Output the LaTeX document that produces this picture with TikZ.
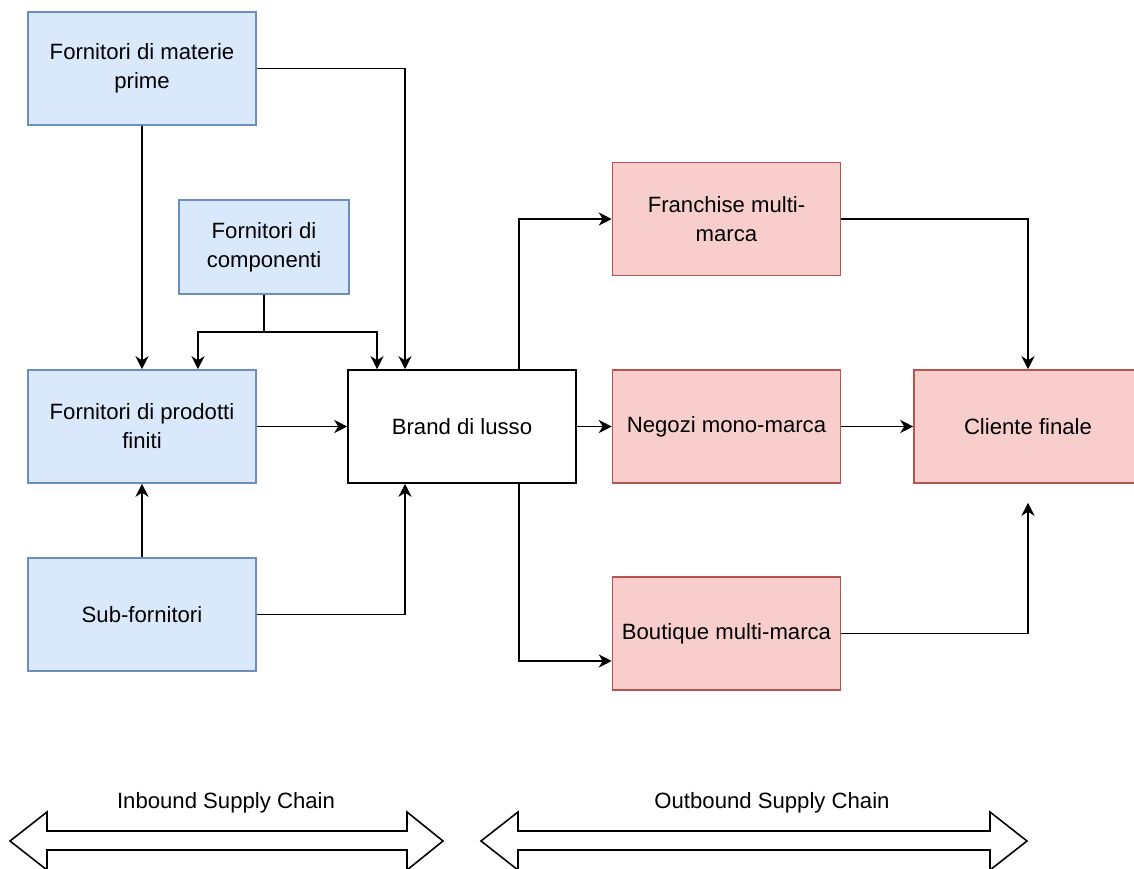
\documentclass[tikz,border=0pt]{standalone}
\usepackage{fontspec}
\setmainfont{Liberation Sans}
\usepackage{xcolor}
\usepackage{tikz}
\usetikzlibrary{arrows.meta, positioning, calc}

\definecolor{inblue}{HTML}{DAE8FC}
\definecolor{inblueline}{HTML}{6C8EBF}
\definecolor{outred}{HTML}{F8CECC}
\definecolor{outredline}{HTML}{B85450}

\begin{document}
\begin{tikzpicture}[
    x=0.02cm, y=-0.02cm,
    box/.style={rectangle, draw, line width=0.9pt, minimum width=4.56cm, minimum height=2.26cm, align=center, inner sep=2pt, font=\fontsize{12.6}{16.5}\selectfont},
    inbox/.style={box, fill=inblue, draw=inblueline},
    outbox/.style={box, fill=outred, draw=outredline},
    arrow/.style={-{Stealth[length=0.26cm, width=0.26cm, inset=0.08cm]}, line width=0.9pt},
    chain/.style={draw, line width=0.9pt, fill=white},
    lbl/.style={font=\fontsize{12.6}{16.5}\selectfont}
]
    \useasboundingbox (0,0) rectangle (1134,869);

    % inbound side
    \node[inbox] (mat) at (142,68.5) {Fornitori di materie\\prime};
    \node[inbox, minimum width=3.4cm, minimum height=1.88cm] (comp) at (264,247) {Fornitori di\\componenti};
    \node[inbox] (fin) at (142,426.5) {Fornitori di prodotti\\finiti};
    \node[inbox] (sub) at (142,614.5) {Sub-fornitori};

    \node[box, fill=white] (brand) at (462,426.5) {Brand di lusso};

    % outbound side
    \node[outbox] (fran) at (726.5,219) {Franchise multi-\\marca};
    \node[outbox] (neg) at (726.5,426.5) {Negozi mono-marca};
    \node[outbox] (bout) at (726.5,633.5) {Boutique multi-marca};
    \node[outbox] (cli) at (1028,426.5) {Cliente finale};

    \coordinate (split) at ([yshift=-0.74cm]comp.south);
    \coordinate (cliend) at ([yshift=-0.38cm]cli.south);

    \draw[arrow] (mat) -- (fin);
    \draw[arrow] (mat.east) -| ([xshift=-1.14cm]brand.north);
    \draw[line width=0.9pt] (comp.south) -- (split);
    \draw[arrow] (split) -| ([xshift=1.12cm]fin.north);
    \draw[arrow] (split) -| ([xshift=-1.7cm]brand.north);
    \draw[arrow] (fin) -- (brand);
    \draw[arrow] (sub) -- (fin);
    \draw[arrow] (sub.east) -| ([xshift=-1.14cm]brand.south);

    \draw[arrow] ([xshift=1.14cm]brand.north) |- (fran.west);
    \draw[arrow] (brand) -- (neg);
    \draw[arrow] ([xshift=1.14cm]brand.south) |- ([yshift=-0.55cm]bout.west);
    \draw[arrow] (fran.east) -| (cli.north);
    \draw[arrow] (neg) -- (cli);
    \draw[arrow] (bout.east) -| (cliend);

    % supply chain spans
    \draw[chain] (10,841) -- (47,812) -- (47,831) -- (407,831) -- (407,812) -- (443,841)
        -- (407,870) -- (407,850) -- (47,850) -- (47,870) -- cycle;
    \draw[chain] (481,841) -- (518,812) -- (518,831) -- (990,831) -- (990,812) -- (1027,841)
        -- (990,870) -- (990,850) -- (518,850) -- (518,870) -- cycle;
    \node[lbl] (inlbl) at (226,803) {Inbound Supply Chain};
    \node[lbl] (outlbl) at (772,803) {Outbound Supply Chain};
\end{tikzpicture}
\end{document}
